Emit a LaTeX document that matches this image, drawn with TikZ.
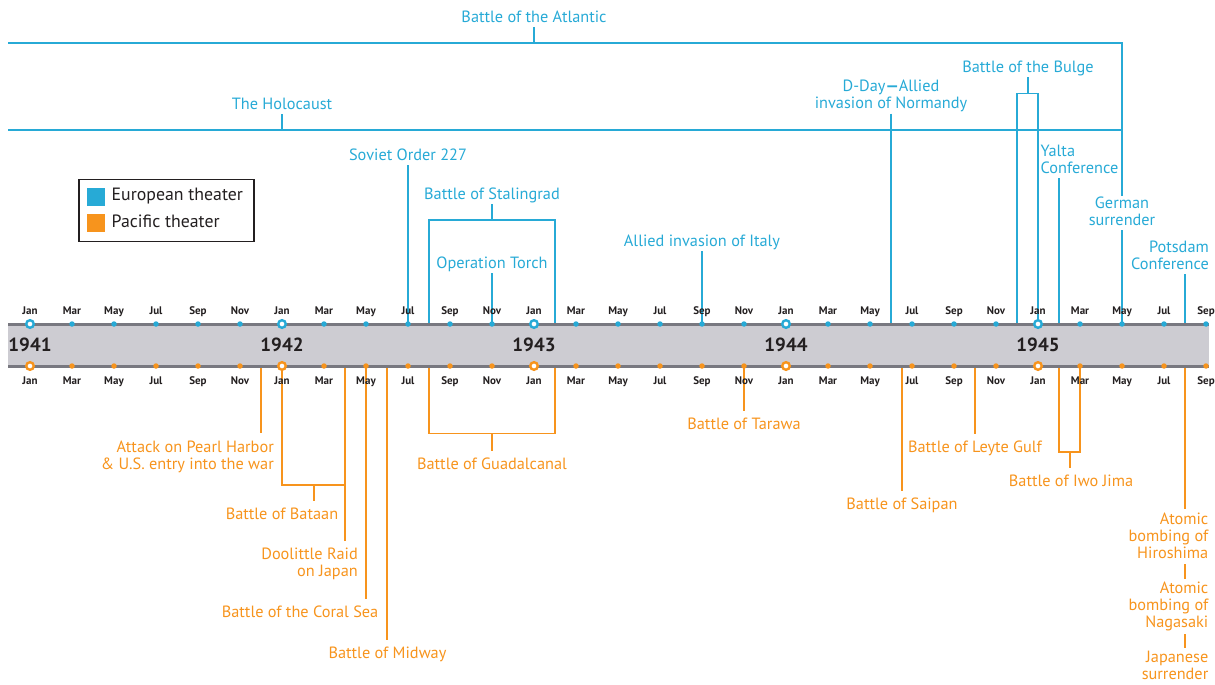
\documentclass[tikz,border=0pt]{standalone}
\usepackage{fontspec}
\setmainfont{PT Sans}
\definecolor{eu}{RGB}{39,170,214}
\definecolor{pa}{RGB}{247,148,29}
\definecolor{bandfill}{RGB}{205,204,210}
\definecolor{bandline}{RGB}{120,120,128}
\definecolor{ink}{RGB}{35,31,32}
\newcommand\MonthName[1]{\ifcase#1 Jan\or\or Mar\or\or May\or\or Jul\or\or Sep\or\or Nov\fi}
\begin{document}
\begin{tikzpicture}[x=1pt,y=-1pt,
  conn/.style={line width=1.5pt},
  euline/.style={conn,draw=eu},
  paline/.style={conn,draw=pa},
  lab/.style={font=\fontsize{16.3}{17}\selectfont,inner xsep=0pt},
  toplab/.style={lab,text=eu,inner ysep=1pt,execute at end node={\rule[-3.2pt]{0pt}{3.2pt}}},
  botlab/.style={lab,text=pa,inner ysep=7pt,execute at begin node={\rule{0pt}{11pt}}},
  stacklab/.style={lab,text=pa,inner ysep=3pt,align=right,execute at begin node={\rule{0pt}{11pt}},execute at end node={\rule[-3.2pt]{0pt}{3.2pt}}},
  monthlab/.style={font=\fontsize{11}{12}\selectfont\bfseries,text=ink,inner sep=0pt,anchor=base},
  yearlab/.style={font=\fontsize{19}{22}\selectfont\bfseries,text=ink,inner sep=0pt,anchor=base},
  dotE/.style={circle,fill=eu,inner sep=0pt,minimum size=5.5pt},
  dotP/.style={circle,fill=pa,inner sep=0pt,minimum size=5.5pt},
  janE/.style={circle,fill=white,draw=eu,line width=2.4pt,inner sep=0pt,minimum size=7.6pt},
  janP/.style={circle,fill=white,draw=pa,line width=2.4pt,inner sep=0pt,minimum size=7.6pt},
  legtxt/.style={font=\fontsize{17.8}{19}\selectfont,text=ink,inner sep=0pt,anchor=base west}
]
\useasboundingbox (0,0) rectangle (1215,685);

% month coordinates
\foreach \m in {0,...,56}{
  \coordinate (T\m) at ({30+21*\m},324);
  \coordinate (B\m) at ({30+21*\m},366);
}
\coordinate (Bsaipan) at (902,366);

% ---------- European theater ----------
\node[lab,text=eu,align=center,anchor=north,inner ysep=1pt,execute at end node={\rule[-3.2pt]{0pt}{3.2pt}}] (german) at (1122,196) {German\\surrender};
\draw[euline] (german.south) -- (T52);

\node[toplab,anchor=south] (atlantic) at (534,27) {Battle of the Atlantic};
\coordinate (atlL) at (8,43);
\coordinate (atlC) at (534,43);
\coordinate (atlR) at (1122,43);
\draw[euline] (atlantic.south) -- (atlC);
\draw[euline] (atlL) -- (atlR) -- (german.north);

\node[toplab,anchor=south] (holocaust) at (282,114) {The Holocaust};
\coordinate (holL) at (8,130);
\coordinate (holR) at (1122,130);
\draw[euline] (holocaust.south) -- (holocaust.south |- holL);
\draw[euline] (holL) -- (holR);

\node[toplab,anchor=south] (soviet) at (408,165) {Soviet Order 227};
\draw[euline] (soviet.south) -- (T18);

\node[toplab,anchor=south] (stalingrad) at (492,204) {Battle of Stalingrad};
\coordinate (stalC) at (492,220);
\draw[euline] (stalingrad.south) -- (stalC);
\draw[euline] (T19) -- (T19 |- stalC) -- (T25 |- stalC) -- (T25);

\node[toplab,anchor=south] (torch) at (492,273) {Operation Torch};
\draw[euline] (torch.south) -- (T22);

\node[toplab,anchor=south] (italy) at (702,251) {Allied invasion of Italy};
\draw[euline] (italy.south) -- (T32);

\node[toplab,anchor=south,align=center] (dday) at (891,113.5) {D-Day{\bfseries—}Allied\\invasion of Normandy};
\draw[euline] (dday.south) -- (T41);

\node[toplab,anchor=south] (bulge) at (1028,77) {Battle of the Bulge};
\coordinate (bulgeC) at (1028,93.5);
\draw[euline] (bulge.south) -- (bulgeC);
\draw[euline] (T47) -- (T47 |- bulgeC) -- (T48 |- bulgeC) -- (T48);

\node[toplab,anchor=south west,align=left] (yalta) at (1040.5,178) {Yalta\\Conference};
\draw[euline] (T49) -- (T49 |- yalta.south);

\node[toplab,anchor=south east,align=right] (potsdam) at (1209,274) {Potsdam\\Conference};
\draw[euline] (T55) -- (T55 |- potsdam.south);

% ---------- Pacific theater ----------
\node[botlab,anchor=north east,align=right] (pearl) at (274,433.3) {Attack on Pearl Harbor\\\& U.S. entry into the war};
\draw[paline] (B11) -- (B11 |- pearl.north);

\coordinate (batC) at (314,485);
\node[botlab,anchor=north] (bataan) at (282,501) {Battle of Bataan};
\draw[paline] (B12) -- (B12 |- batC) -- (batC -| B15);
\draw[paline] (batC) -- (batC |- bataan.north);

\node[botlab,anchor=north east,align=right] (doolittle) at (358,541) {Doolittle Raid\\on Japan};
\draw[paline] (B15) -- (B15 |- doolittle.north);

\node[botlab,anchor=north east] (coral) at (378.5,599) {Battle of the Coral Sea};
\draw[paline] (B16) -- (B16 |- coral.north);

\node[botlab,anchor=north] (midway) at (387.5,639.5) {Battle of Midway};
\draw[paline] (B17) -- (B17 |- midway.north);

\coordinate (guaC) at (492,433.5);
\node[botlab,anchor=north] (guadalcanal) at (492,450.5) {Battle of Guadalcanal};
\draw[paline] (B19) -- (B19 |- guaC) -- (B25 |- guaC) -- (B25);
\draw[paline] (guaC) -- (guadalcanal.north);

\node[botlab,anchor=north] (tarawa) at (744,410.5) {Battle of Tarawa};
\draw[paline] (B34) -- (tarawa.north);

\node[botlab,anchor=north] (saipan) at (902,491) {Battle of Saipan};
\draw[paline] (Bsaipan) -- (saipan.north);

\node[botlab,anchor=north] (leyte) at (975,433.5) {Battle of Leyte Gulf};
\draw[paline] (B45) -- (leyte.north);

\coordinate (iwoC) at (1070,452);
\node[botlab,anchor=north] (iwo) at (1071,467.5) {Battle of Iwo Jima};
\draw[paline] (B49) -- (B49 |- iwoC) -- (B50 |- iwoC) -- (B50);
\draw[paline] (iwoC) -- (iwoC |- iwo.north);

\node[stacklab,anchor=north east] (hiroshima) at (1208.5,509.3) {Atomic\\bombing of\\Hiroshima};
\draw[paline] (B55) -- (B55 |- hiroshima.north);
\node[stacklab,anchor=north east] (nagasaki) at (1208.5,579) {Atomic\\bombing of\\Nagasaki};
\draw[paline] (B55 |- hiroshima.south) -- (B55 |- nagasaki.north);
\node[stacklab,anchor=north east] (japanese) at (1208.5,648) {Japanese\\surrender};
\draw[paline] (B55 |- nagasaki.south) -- (B55 |- japanese.north);

% ---------- band ----------
\fill[bandfill] (8,324) rectangle (1209,366);
\draw[bandline,line width=3pt] (8,324) -- (1209,324);
\draw[bandline,line width=3pt] (8,366) -- (1209,366);

\foreach \m in {0,2,...,56}{
  \pgfmathtruncatemacro\r{mod(\m,12)}
  \ifnum\r=0
    \node[janE] (dT\m) at (T\m) {};
    \node[janP] (dB\m) at (B\m) {};
  \else
    \node[dotE] (dT\m) at (T\m) {};
    \node[dotP] (dB\m) at (B\m) {};
  \fi
  \node[monthlab] (mT\m) at ({30+21*\m},314) {\MonthName{\r}};
  \node[monthlab] (mB\m) at ({30+21*\m},384) {\MonthName{\r}};
}
\foreach \k/\y in {0/1941,1/1942,2/1943,3/1944,4/1945}{
  \node[yearlab] (y\y) at ({30+252*\k},351.7) {\y};
}

% ---------- legend ----------
\node[draw=ink,line width=1.2pt,minimum width=175pt,minimum height=61.7pt,inner sep=0pt,anchor=north west] (legend) at (78.3,179) {};
\node[fill=eu,minimum size=18.5pt,inner sep=0pt,anchor=north west] (eusq) at (86.3,187.3) {};
\node[fill=pa,minimum size=18.5pt,inner sep=0pt,anchor=north west] (pasq) at (86.3,213.3) {};
\node[legtxt] (eutxt) at (111.5,200.7) {European theater};
\node[legtxt] (patxt) at (111.5,227.3) {Pacific theater};
\end{tikzpicture}
\end{document}
